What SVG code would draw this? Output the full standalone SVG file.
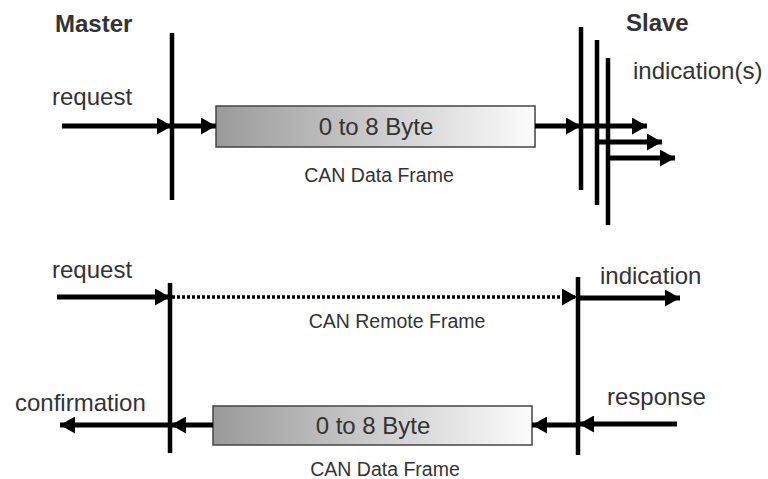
<svg xmlns="http://www.w3.org/2000/svg" width="768" height="479" viewBox="0 0 768 479">
<defs>
<linearGradient id="grad" x1="0" y1="0" x2="1" y2="0">
<stop offset="0" stop-color="#9a9a9a"/>
<stop offset="1" stop-color="#fcfcfc"/>
</linearGradient>
<marker id="ah" markerUnits="userSpaceOnUse" markerWidth="16" markerHeight="17" refX="15" refY="8.5" orient="auto">
<path d="M0,0 L15,8.5 L0,17 z" fill="#000"/>
</marker>
<style>
.t{font-family:"Liberation Sans",Arial,sans-serif;fill:#333;font-size:24px}
.b{font-weight:bold}
.s{font-size:19.5px}
.m{text-anchor:middle}
.bar{stroke:#000;stroke-width:4.5}
.ar{stroke:#000;stroke-width:5;fill:none;marker-end:url(#ah)}
.dot{stroke:#000;stroke-width:3.5;stroke-dasharray:3 2;fill:none;marker-end:url(#ah)}
.box{fill:url(#grad);stroke:#444;stroke-width:1.5}
</style>
</defs>
<rect width="768" height="479" fill="#fff"/>

<g id="master-label"><text class="t b" x="55" y="32">Master</text></g>
<g id="slave-label"><text class="t b" x="626" y="31">Slave</text></g>

<g id="master-bar-top"><line class="bar" x1="172" y1="33" x2="172" y2="200"/></g>
<g id="slave-bars-top">
<line class="bar" x1="581" y1="27" x2="581" y2="190"/>
<line class="bar" x1="597" y1="40" x2="597" y2="205"/>
<line class="bar" x1="608" y1="58" x2="608" y2="225"/>
</g>
<g id="data-frame-top">
<rect class="box" x="216" y="106" width="319" height="41"/>
<text class="t m" x="376" y="135">0 to 8 Byte</text>
<text class="t s m" x="379" y="182">CAN Data Frame</text>
</g>
<g id="request-top-label"><text class="t" x="52" y="105">request</text></g>
<g id="indications-label"><text class="t" x="633" y="79">indication(s)</text></g>

<g id="master-bar-bottom"><line class="bar" x1="170" y1="283" x2="170" y2="453"/></g>
<g id="slave-bar-bottom"><line class="bar" x1="578" y1="277" x2="578" y2="455"/></g>
<g id="request-bottom-label"><text class="t" x="52" y="278">request</text></g>
<g id="indication-label"><text class="t" x="600" y="284">indication</text></g>
<g id="remote-frame-label"><text class="t s m" x="397" y="328">CAN Remote Frame</text></g>
<g id="confirmation-label"><text class="t" x="15" y="411">confirmation</text></g>
<g id="response-label"><text class="t" x="607" y="405">response</text></g>
<g id="data-frame-bottom">
<rect class="box" x="213" y="406" width="319" height="39"/>
<text class="t m" x="373" y="434">0 to 8 Byte</text>
<text class="t s m" x="385" y="476">CAN Data Frame</text>
</g>

<g id="connectors">
<line class="ar" x1="62" y1="126" x2="172" y2="126"/>
<line class="ar" x1="172" y1="126" x2="216" y2="126"/>
<line class="ar" x1="535" y1="126" x2="581" y2="126"/>
<line class="ar" x1="581" y1="126" x2="647" y2="126"/>
<line class="ar" x1="597" y1="142" x2="662" y2="142"/>
<line class="ar" x1="608" y1="158" x2="675" y2="158"/>

<line class="ar" x1="57" y1="297" x2="170" y2="297"/>
<line class="dot" x1="172" y1="297" x2="577" y2="297"/>
<line class="ar" x1="578" y1="298" x2="680" y2="298"/>

<line class="ar" x1="677" y1="424" x2="579" y2="424"/>
<line class="ar" x1="578" y1="425" x2="532" y2="425"/>
<line class="ar" x1="213" y1="425" x2="171" y2="425"/>
<line class="ar" x1="170" y1="425" x2="60" y2="425"/>
</g>
</svg>
